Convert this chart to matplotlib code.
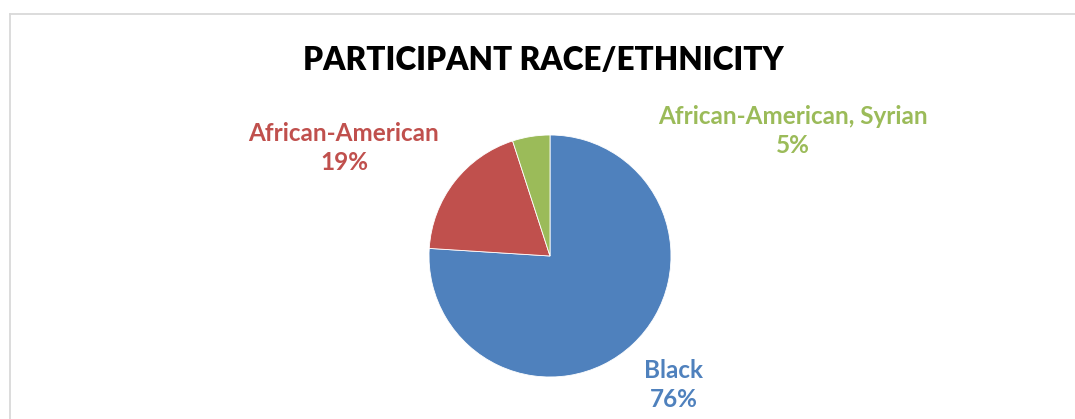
import matplotlib.pyplot as plt
from matplotlib.lines import Line2D

# race / ethnicity breakdown
labels = ['Black', 'African-American', 'African-American, Syrian']
shares = [76, 19, 5]
colors = ['#4F81BD', '#C0504D', '#9BBB59']

W, H = 1075, 419
fig = plt.figure(figsize=(W / 100, H / 100), dpi=100)
fig.patch.set_facecolor('white')

# chart area frame (only top and left edges fall inside the image)
fig.add_artist(Line2D([10 / W, 10 / W], [0, 1 - 14 / H], color='#d9d9d9', lw=1.3))
fig.add_artist(Line2D([10 / W, 1], [1 - 14 / H, 1 - 14 / H], color='#d9d9d9', lw=1.3))

# axes in pixel units, y going up
ax = fig.add_axes([0, 0, 1, 1])

cx, cy, r = 550, H - 256, 121
ax.pie(shares, colors=colors, startangle=90, counterclock=False,
       center=(cx, cy), radius=r, frame=True,
       wedgeprops=dict(linewidth=0.6, edgecolor='white'))
ax.set_xlim(0, W)
ax.set_ylim(0, H)
ax.set_aspect('equal')
ax.axis('off')

font = 'Lato'
ax.text(543, H - 60, 'PARTICIPANT RACE/ETHNICITY', ha='center', va='center',
        fontsize=22.7, fontweight='heavy', family=font, color='black')

# data labels: name on top, percentage below
label_pos = [(674, H - 385), (344, H - 148), (793, H - 131)]
for name, val, col, (x, y) in zip(labels, shares, colors, label_pos):
    ax.text(x, y, f'{name}\n{val}%', ha='center', va='center',
            fontsize=17.5, fontweight='bold', family=font, color=col,
            linespacing=1.28)

fig.savefig('out.png', dpi=100)
